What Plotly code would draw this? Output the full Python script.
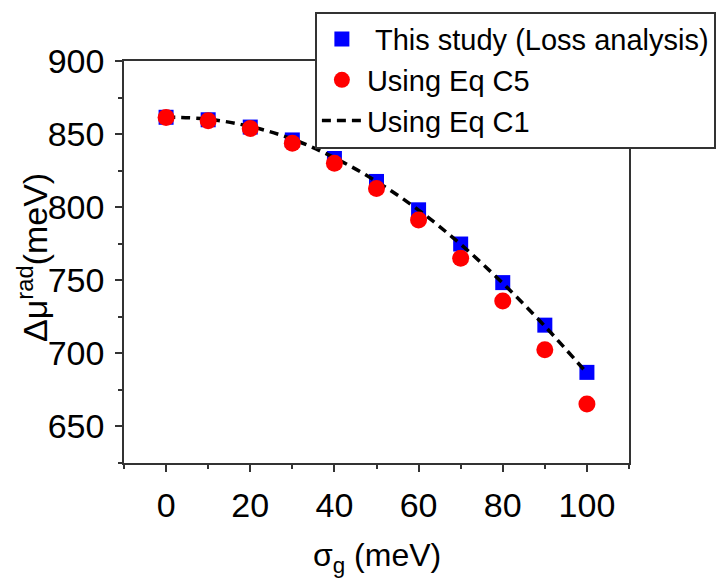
import plotly.graph_objects as go

# Gaussian disorder broadening (meV)
sigma_g = [0, 10, 20, 30, 40, 50, 60, 70, 80, 90, 100]

# Radiative chemical-potential loss (meV)
loss_analysis = [861.5, 859.8, 854.8, 846.0, 833.3, 817.6, 798.2, 774.8, 748.4, 719.3, 687.0]
eq_c5 = [861.3, 859.2, 853.9, 843.7, 830.0, 812.8, 791.3, 765.0, 735.8, 702.5, 665.4]
eq_c1 = [861.6, 860.2, 855.2, 846.6, 833.8, 817.6, 798.0, 774.6, 748.0, 718.6, 686.5]

# Axis ticks
x_ticks = [0, 20, 40, 60, 80, 100]
y_ticks = [650, 700, 750, 800, 850, 900]

FONT = "Arial, Liberation Sans, sans-serif"
AXIS_COLOR = "#333333"

fig = go.Figure()

fig.add_trace(go.Scatter(
    x=sigma_g, y=loss_analysis, mode="markers",
    name="\u00a0This study (Loss analysis)",
    marker=dict(symbol="square", size=15, color="#0000ff", line=dict(width=0)),
    legendrank=1,
))
fig.add_trace(go.Scatter(
    x=sigma_g, y=eq_c1, mode="lines",
    name="Using Eq C1",
    line=dict(color="black", width=3.5, dash="9px,6px", shape="spline"),
    legendrank=3,
))
fig.add_trace(go.Scatter(
    x=sigma_g, y=eq_c5, mode="markers",
    name="Using Eq C5",
    marker=dict(symbol="circle", size=17, color="#ff0000", line=dict(width=0)),
    legendrank=2,
))

axis_common = dict(
    showgrid=False, zeroline=False,
    showline=True, linecolor=AXIS_COLOR, linewidth=1.5, mirror=True,
    ticks="outside", ticklen=7, tickwidth=1.5, tickcolor=AXIS_COLOR,
    tickfont=dict(family=FONT, size=34, color="black"),
)

fig.update_xaxes(
    range=[-10, 110], tickvals=x_ticks,
    minor=dict(dtick=10, tick0=0, ticks="outside", ticklen=4, tickwidth=1.5, tickcolor=AXIS_COLOR),
    ticklabelstandoff=4,
    **axis_common,
)
fig.update_yaxes(
    range=[625, 900], tickvals=y_ticks,
    minor=dict(dtick=25, tick0=625, ticks="outside", ticklen=4, tickwidth=1.5, tickcolor=AXIS_COLOR),
    ticklabelstandoff=4,
    **axis_common,
)

fig.add_annotation(
    text="σ<sub>g</sub> (meV)", xref="paper", yref="paper",
    x=0.5, y=-0.235, xanchor="center", yanchor="middle", showarrow=False,
    font=dict(family=FONT, size=32, color="black"),
)
fig.add_annotation(
    text="Δμ<sup>rad</sup>(meV)", xref="paper", yref="paper",
    x=-0.18, y=0.51, xanchor="center", yanchor="middle", showarrow=False,
    textangle=-90,
    font=dict(family=FONT, size=34, color="black"),
)

fig.update_layout(
    width=728, height=580,
    margin=dict(l=124, r=96, t=55, b=117),
    paper_bgcolor="white", plot_bgcolor="white",
    showlegend=True,
    legend=dict(
        x=0.378, y=1.1225, xanchor="left", yanchor="top",
        bgcolor="white", bordercolor=AXIS_COLOR, borderwidth=2,
        font=dict(family=FONT, size=29, color="black"),
        itemwidth=40, tracegroupgap=0,
    ),
)

fig.write_html("out.html")
